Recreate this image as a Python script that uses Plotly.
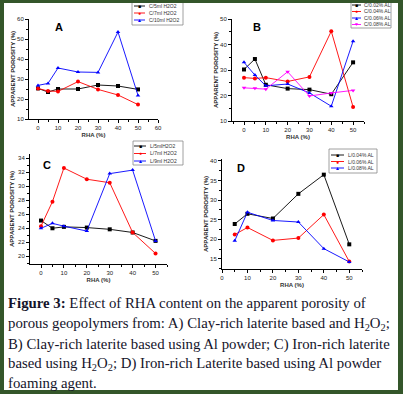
import plotly.graph_objects as go

W, H = 403, 394

# ---------------- data ----------------
rha_A = [0, 5, 10, 20, 30, 40, 50]
A_names = ["C/5ml H2O2", "C/7ml H2O2", "C/10ml H2O2"]
A_vals = [
    [25.3, 23.5, 25.0, 25.0, 27.0, 26.5, 24.8],
    [25.3, 24.0, 23.8, 28.7, 24.8, 22.0, 17.2],
    [26.8, 27.8, 35.5, 33.5, 33.3, 53.5, 21.8],
]

rha_B = [0, 5, 10, 20, 30, 40, 50]
B_names = ["C/0.02% AL", "C/0.04% AL", "C/0.06% AL", "C/0.08% AL"]
B_vals = [
    [30.2, 34.3, 24.2, 22.7, 22.3, 20.5, 33.0],
    [27.0, 26.7, 27.0, 25.5, 27.3, 45.2, 15.5],
    [33.0, 28.0, 23.8, 24.5, 21.0, 15.8, 41.3],
    [23.0, 22.8, 22.5, 29.3, 19.8, 21.0, 22.0],
]

rha_C = [0, 5, 10, 20, 30, 40, 50]
C_names = ["L/5mlH2O2", "L/7ml H2O2", "L/9ml H2O2"]
C_vals = [
    [25.1, 24.0, 24.2, 24.1, 23.85, 23.4, 22.2],
    [24.3, 27.8, 32.6, 31.0, 30.5, 23.4, 20.4],
    [24.0, 24.7, 24.3, 23.6, 31.8, 32.3, 22.2],
]

rha_D = [5, 10, 20, 30, 40, 50]
D_names = ["L/0.04% AL", "L/0.06% AL", "L/0.08% AL"]
D_vals = [
    [23.9, 26.5, 25.3, 31.6, 36.5, 18.7],
    [21.2, 23.0, 19.7, 20.3, 26.3, 14.3],
    [19.6, 26.9, 24.8, 24.4, 17.6, 14.2],
]

colors = ["#000000", "#ff0000", "#0000ff", "#ff00ff"]
symbols = ["square", "circle", "triangle-up", "triangle-down"]
sym_chars = ["■", "●", "▲", "▼"]

caption_lines = [
    "<b>Figure 3:</b> Effect of RHA content on the apparent porosity of",
    "porous geopolymers from: A) Clay-rich laterite based and H<sub>2</sub>O<sub>2</sub>;",
    "B) Clay-rich laterite based using Al powder; C) Iron-rich laterite",
    "based using H<sub>2</sub>O<sub>2</sub>; D) Iron-rich Laterite based using Al powder",
    "foaming agent.",
]

# ---------------- helpers ----------------
def fx(px):
    return px / W

def fy(py):
    return 1 - py / H

fig = go.Figure()

SANS = "Liberation Sans, Arial, sans-serif"
tickfont = dict(family=SANS, size=6, color="#222")

panels = [
    dict(letter="A", x=rha_A, names=A_names, vals=A_vals,
         xpix=(29, 158), ypix=(19, 119), xr=[-4.5, 60], yr=[10, 60], ydt=10, xticks=list(range(0, 61, 10)),
         lpos=(10.5, 56), box=(132, 2, 183, 25), ey=[6, 13, 20], lx=(134, 145), tx=147, ytx=13),
    dict(letter="B", x=rha_B, names=B_names, vals=B_vals,
         xpix=(232, 364), ypix=(19, 121), xr=[-5.5, 55], yr=[10, 50], ydt=10, xticks=list(range(0, 51, 10)),
         lpos=(6, 47), box=(351, 1, 391, 28), ey=[5, 11.5, 18, 24.5], lx=(352, 361), tx=362, ytx=216),
    dict(letter="C", x=rha_C, names=C_names, vals=C_vals,
         xpix=(30, 167), ypix=(154, 264), xr=[-4.8, 55], yr=[18.9, 34.6], ydt=2, xticks=list(range(0, 51, 10)),
         lpos=(2.6, 33.1), box=(133, 141, 183, 165), ey=[146, 153.5, 161], lx=(134, 146), tx=148, ytx=12),
    dict(letter="D", x=rha_D, names=D_names, vals=D_vals,
         xpix=(222, 362), ypix=(159, 269), xr=[0, 55], yr=[12.4, 40.5], ydt=5, xticks=list(range(0, 51, 10)),
         lpos=(7.5, 38.2), box=(329, 149, 377, 173), ey=[155, 161.5, 168], lx=(331, 344), tx=346, ytx=206),
]

shapes = []
annotations = []
layout_axes = {}

for i, p in enumerate(panels):
    n = "" if i == 0 else str(i + 1)
    xa, ya = "x" + n, "y" + n
    for j, (nm, v) in enumerate(zip(p["names"], p["vals"])):
        fig.add_trace(go.Scatter(
            x=p["x"], y=v, name=nm, xaxis=xa, yaxis=ya, mode="lines+markers",
            line=dict(color=colors[j], width=0.9),
            marker=dict(symbol=symbols[j], size=4, color=colors[j]),
            showlegend=False,
        ))
    axcommon = dict(showgrid=False, zeroline=False, showline=True, linecolor="#000", linewidth=1,
                    ticks="outside", ticklen=3, tickwidth=1, tickcolor="#000", tickfont=tickfont,
                    automargin=False)
    layout_axes["xaxis" + n] = dict(
        axcommon, domain=[fx(p["xpix"][0]), fx(p["xpix"][1])], range=p["xr"], anchor=ya,
        tickmode="array", tickvals=p["xticks"],
        minor=dict(ticks="outside", ticklen=2, tickcolor="#000", dtick=5, tick0=0),
        title=dict(text="<b>RHA (%)</b>", font=dict(family=SANS, size=6, color="#333"), standoff=2),
    )
    layout_axes["yaxis" + n] = dict(
        axcommon, domain=[fy(p["ypix"][1]), fy(p["ypix"][0])], range=p["yr"], anchor=xa,
        dtick=p["ydt"], tick0=0,
        minor=dict(ticks="outside", ticklen=2, tickcolor="#000", dtick=p["ydt"] / 2, tick0=0),
    )
    ymid = (p["ypix"][0] + p["ypix"][1]) / 2
    annotations.append(dict(xref="paper", yref="paper", x=fx(p["ytx"]), y=fy(ymid), text="<b>APPARENT POROSITY (%)</b>",
                            textangle=-90, showarrow=False, font=dict(family=SANS, size=6, color="#222"),
                            xanchor="center", yanchor="middle"))
    annotations.append(dict(xref=xa, yref=ya, x=p["lpos"][0], y=p["lpos"][1], text="<b>%s</b>" % p["letter"],
                            showarrow=False, font=dict(family=SANS, size=11, color="#000")))
    bx0, by0, bx1, by1 = p["box"]
    shapes.append(dict(type="rect", xref="paper", yref="paper", x0=fx(bx0), x1=fx(bx1), y0=fy(by1), y1=fy(by0),
                       line=dict(color="#888", width=0.8), fillcolor="white", layer="above"))
    for j, nm in enumerate(p["names"]):
        ey = p["ey"][j]
        shapes.append(dict(type="line", xref="paper", yref="paper", x0=fx(p["lx"][0]), x1=fx(p["lx"][1]),
                           y0=fy(ey), y1=fy(ey), line=dict(color=colors[j], width=0.9), layer="above"))
        annotations.append(dict(xref="paper", yref="paper", x=fx((p["lx"][0] + p["lx"][1]) / 2), y=fy(ey),
                                text=sym_chars[j], showarrow=False, font=dict(family=SANS, size=5, color=colors[j]),
                                xanchor="center", yanchor="middle"))
        annotations.append(dict(xref="paper", yref="paper", x=fx(p["tx"]), y=fy(ey),
                                text=nm, showarrow=False,
                                font=dict(family=SANS, size=5, color="#333"),
                                xanchor="left", yanchor="middle"))

# caption
cap_y = [303, 324, 344, 364, 383]
for t, yy in zip(caption_lines, cap_y):
    annotations.append(dict(xref="paper", yref="paper", x=fx(7), y=fy(yy), text=t, showarrow=False,
                            xanchor="left", yanchor="middle", borderpad=0,
                            font=dict(family="Liberation Serif, Times New Roman, serif", size=14.8, color="#14142a")))

# green frame
G = "#34562a"
shapes += [
    dict(type="rect", xref="paper", yref="paper", x0=0, x1=fx(4), y0=0, y1=1, fillcolor=G, line=dict(width=0), layer="above"),
    dict(type="rect", xref="paper", yref="paper", x0=fx(398), x1=1, y0=0, y1=1, fillcolor=G, line=dict(width=0), layer="above"),
    dict(type="rect", xref="paper", yref="paper", x0=0, x1=1, y0=fy(3), y1=1, fillcolor=G, line=dict(width=0), layer="above"),
    dict(type="rect", xref="paper", yref="paper", x0=0, x1=1, y0=0, y1=fy(390), fillcolor=G, line=dict(width=0), layer="above"),
]

fig.update_layout(
    width=W, height=H, margin=dict(l=0, r=0, t=0, b=0, autoexpand=False),
    paper_bgcolor="white", plot_bgcolor="white", showlegend=False,
    shapes=shapes, annotations=annotations, **layout_axes,
)

fig.write_html("out.html", config={"displayModeBar": False},
               post_script="document.body.style.margin='0';document.body.style.overflow='hidden';")
